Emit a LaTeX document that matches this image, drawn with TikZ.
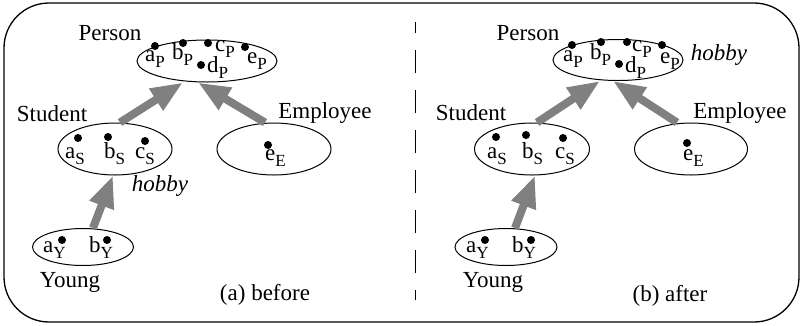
\documentclass[tikz,border=0pt]{standalone}
\usepackage{fontspec}
\setmainfont{Liberation Serif}
\usetikzlibrary{shapes.geometric,arrows.meta}
\newcommand{\elm}[2]{#1\raisebox{-6pt}{\fontsize{17}{17}\selectfont #2}}
\begin{document}
\begin{tikzpicture}[x=1pt,y=-1pt,
  every node/.style={font=\fontsize{23}{27}\selectfont},
  cls/.style={draw, ellipse, line width=1pt, inner sep=0pt},
  lbl/.style={anchor=base, inner sep=0pt},
  elt/.style={anchor=base west, inner sep=0pt},
  pt/.style={circle, fill=black, minimum size=8pt, inner sep=0pt},
  isa/.style={draw=gray, line width=8pt, -{Triangle[width=24pt,length=32pt,fill=gray]}}]
\useasboundingbox (0,0) rectangle (803,325);
\draw[line width=1.3pt, rounded corners=45pt] (4,3) rectangle (799,322);
\draw[line width=1pt, dash pattern=on 23pt off 17pt, dash phase=12pt] (415,22) -- (415,300);

% ---------- left panel ----------
\node[cls, minimum width=140pt, minimum height=42pt] (perL) at (207,61) {};
\node[cls, minimum width=114pt, minimum height=52pt] (stuL) at (115,149) {};
\node[cls, minimum width=114pt, minimum height=52pt] (empL) at (274,149) {};
\node[cls, minimum width=101pt, minimum height=37pt] (yngL) at (83,247) {};

\node[lbl] (tPerL) at (110,40) {Person};
\node[lbl] (tStuL) at (52,121) {Student};
\node[lbl] (tEmpL) at (325,118) {Employee};
\node[lbl] (tYngL) at (70,287) {Young};
\node[lbl] (tHobL) at (160,191) {\itshape hobby};
\node[lbl] (capL) at (265,300) {(a) before};

\node[elt] (aPL) at (145,61) {\elm{a}{P}};
\node[elt] (bPL) at (172,59) {\elm{b}{P}};
\node[elt] (cPL) at (215,51) {\elm{c}{P}};
\node[elt] (dPL) at (207,72) {\elm{d}{P}};
\node[elt] (ePL) at (247,63) {\elm{e}{P}};
\node[pt] (daPL) at (155,46) {};
\node[pt] (dbPL) at (183,43) {};
\node[pt] (dcPL) at (208,43) {};
\node[pt] (ddPL) at (201,65) {};
\node[pt] (dePL) at (245,47) {};

\node[elt] (aSL) at (65,158) {\elm{a}{S}};
\node[elt] (bSL) at (104,158) {\elm{b}{S}};
\node[elt] (cSL) at (135,158) {\elm{c}{S}};
\node[pt] (daSL) at (78,138) {};
\node[pt] (dbSL) at (108,137) {};
\node[pt] (dcSL) at (145,141) {};

\node[elt] (eEL) at (265,160) {\elm{e}{E}};
\node[pt] (deEL) at (268,145) {};

\node[elt] (aYL) at (43,252) {\elm{a}{Y}};
\node[elt] (bYL) at (89,252) {\elm{b}{Y}};
\node[pt] (daYL) at (62,240) {};
\node[pt] (dbYL) at (107,240) {};

\draw[isa] ([xshift=5pt]stuL.north) -- ([xshift=-24pt]perL.south);
\draw[isa] ([xshift=-9pt]empL.north) -- ([xshift=-9pt]perL.south);
\draw[isa] ([xshift=10pt]yngL.north) -- ([xshift=-2pt]stuL.south);

% ---------- right panel ----------
\node[cls, minimum width=130pt, minimum height=41pt] (perR) at (618,60) {};
\node[cls, minimum width=115pt, minimum height=52pt] (stuR) at (532,149) {};
\node[cls, minimum width=113pt, minimum height=52pt] (empR) at (691,149) {};
\node[cls, minimum width=102pt, minimum height=37pt] (yngR) at (506,247) {};

\node[lbl] (tPerR) at (528,40) {Person};
\node[lbl] (tHobR) at (719,60) {\itshape hobby};
\node[lbl] (tStuR) at (471,120) {Student};
\node[lbl] (tEmpR) at (740,118) {Employee};
\node[lbl] (tYngR) at (493,287) {Young};
\node[lbl] (capR) at (670,301) {(b) after};

\node[elt] (aPR) at (563,61) {\elm{a}{P}};
\node[elt] (bPR) at (590,59) {\elm{b}{P}};
\node[elt] (cPR) at (632,51) {\elm{c}{P}};
\node[elt] (dPR) at (625,72) {\elm{d}{P}};
\node[elt] (ePR) at (660,63) {\elm{e}{P}};
\node[pt] (daPR) at (572,45) {};
\node[pt] (dbPR) at (601,42) {};
\node[pt] (dcPR) at (627,42) {};
\node[pt] (ddPR) at (619,64) {};
\node[pt] (dePR) at (662,45) {};

\node[elt] (aSR) at (487,158) {\elm{a}{S}};
\node[elt] (bSR) at (522,158) {\elm{b}{S}};
\node[elt] (cSR) at (555,158) {\elm{c}{S}};
\node[pt] (daSR) at (496,137) {};
\node[pt] (dbSR) at (526,135) {};
\node[pt] (dcSR) at (563,138) {};

\node[elt] (eER) at (683,160) {\elm{e}{E}};
\node[pt] (deER) at (687,143) {};

\node[elt] (aYR) at (466,252) {\elm{a}{Y}};
\node[elt] (bYR) at (512,252) {\elm{b}{Y}};
\node[pt] (daYR) at (485,240) {};
\node[pt] (dbYR) at (531,240) {};

\draw[isa] ([xshift=5pt]stuR.north) -- ([xshift=-18pt]perR.south);
\draw[isa] ([xshift=-14pt]empR.north) -- ([xshift=-5pt]perR.south);
\draw[isa] ([xshift=9pt]yngR.north) -- ([xshift=3pt]stuR.south);
\end{tikzpicture}
\end{document}
